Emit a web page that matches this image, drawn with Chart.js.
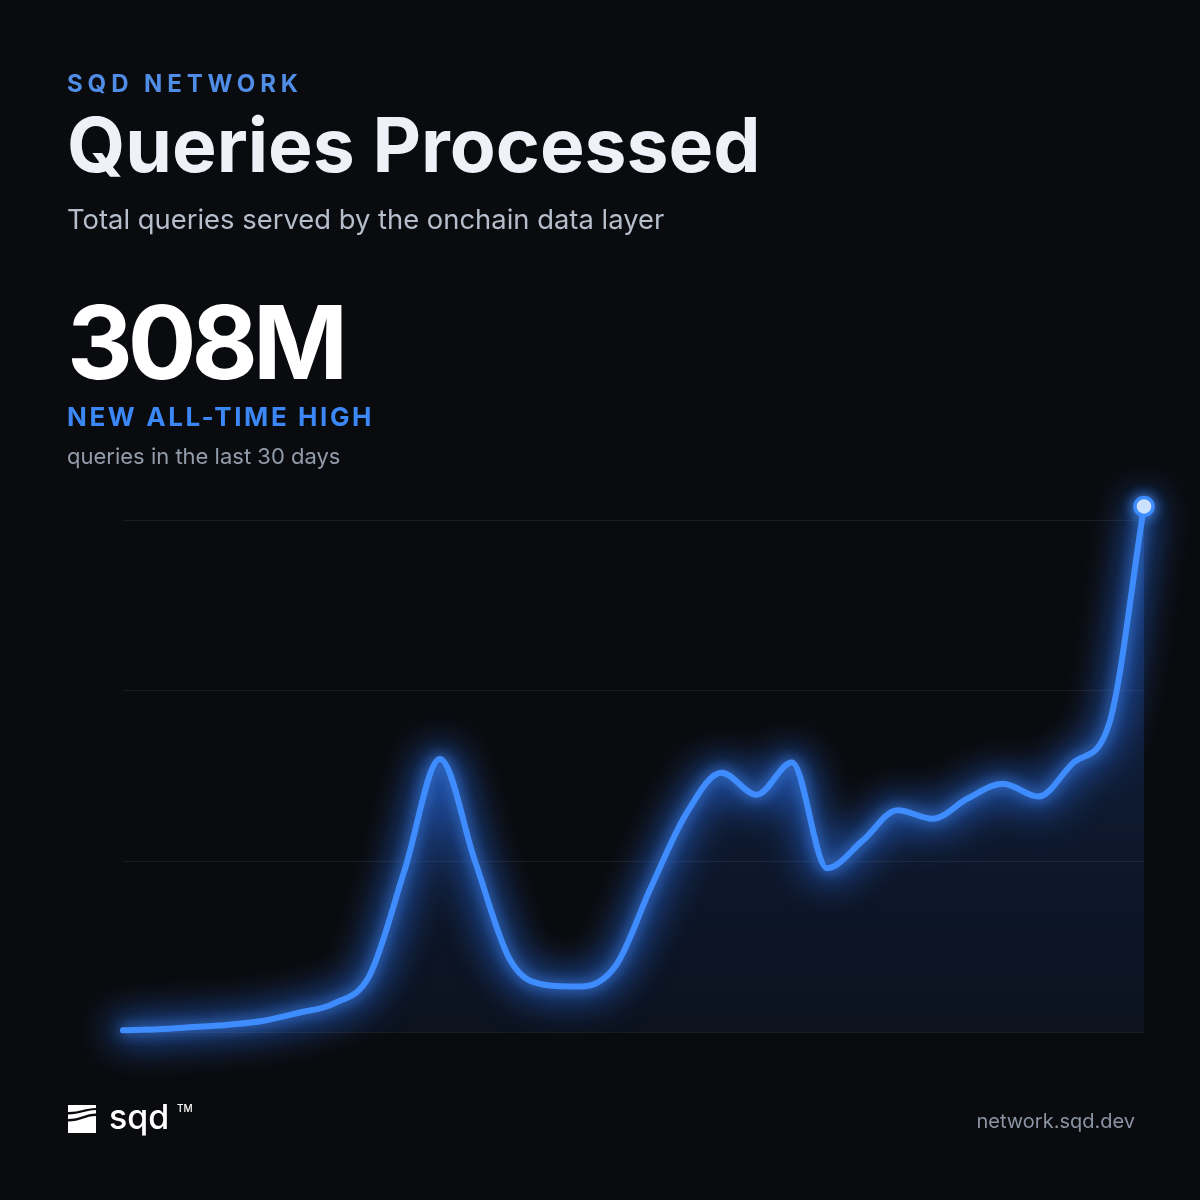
<!DOCTYPE html>
<html>
<head>
<meta charset="utf-8">
<script src="https://cdn.jsdelivr.net/npm/chart.js@4.4.1/dist/chart.umd.min.js"></script>
<style>
  html, body { margin: 0; padding: 0; background: #0a0b0e; }
  body { width: 1200px; height: 1200px; position: relative; overflow: hidden; font-family: "Inter", "Noto Sans", sans-serif; }
  #chart { position: absolute; left: 0; top: 0; }
  .txt { position: absolute; left: 67px; line-height: 1; white-space: nowrap; }
  .kicker { top: 72px; font-size: 24px; font-weight: 700; letter-spacing: 4.9px; color: #4f8de6; }
  .title { top: 107px; font-size: 75px; font-weight: 700; letter-spacing: 0; color: #eef2f8; }
  .sub { top: 206px; font-size: 27.4px; font-weight: 400; color: #b6becc; }
  .big { top: 291px; font-size: 102px; font-weight: 700; letter-spacing: -5px; color: #ffffff; }
  .ath { top: 404px; font-size: 26px; font-weight: 700; letter-spacing: 2.6px; color: #3b87f5; }
  .small { top: 445px; font-size: 22px; font-weight: 400; color: #939cab; }
  .logo { position: absolute; left: 68px; top: 1105px; width: 28px; height: 28px; }
  .brand { position: absolute; left: 109px; top: 1100px; font-size: 34px; font-weight: 500; color: #ffffff; line-height: 1; }
  .tm { position: absolute; left: 177px; top: 1103px; font-size: 10px; font-weight: 500; color: #ffffff; line-height: 1; }
  .url { position: absolute; right: 65px; top: 1111px; font-size: 20px; font-weight: 400; color: #8b94a4; line-height: 1; }
</style>
</head>
<body>
<canvas id="chart" width="1200" height="1200"></canvas>

<div class="txt kicker">SQD NETWORK</div>
<div class="txt title">Queries Processed</div>
<div class="txt sub">Total queries served by the onchain data layer</div>
<div class="txt big">308M</div>
<div class="txt ath">NEW ALL-TIME HIGH</div>
<div class="txt small">queries in the last 30 days</div>

<svg class="logo" viewBox="0 0 28 28">
  <path fill="#fff" d="M0 0 H28 V3 C18 3 12 7 0 7 Z"/>
  <path fill="#fff" d="M0 9.5 C12 9.5 18 5 28 5 V8.5 C18 8.5 12 14 0 14 Z"/>
  <path fill="#fff" d="M0 16.5 C12 16.5 18 11 28 11 V28 H0 Z"/>
</svg>
<div class="brand">sqd</div>
<div class="tm">TM</div>
<div class="url">network.sqd.dev</div>

<script>
// DATA
const day_labels = [
  'D1', 'D2', 'D3', 'D4', 'D5', 'D6', 'D7', 'D8', 'D9', 'D10',
  'D11', 'D12', 'D13', 'D14', 'D15', 'D16', 'D17', 'D18', 'D19', 'D20',
  'D21', 'D22', 'D23', 'D24', 'D25', 'D26', 'D27', 'D28', 'D29', 'D30'
];
// queries, millions
const queries = [
  1, 1.6, 2.9, 4.3, 6.6, 11.3, 16.8, 33, 95, 160,
  100, 42, 27.6, 26.6, 39, 85, 128, 152, 139, 158,
  96, 112, 130, 125, 137, 145.5, 138, 158, 180, 308
];
const grid_ticks = [0, 100, 200, 300];

// GLOW - blurred wide copy of the line first, then the line with a small glow
const glowPlugin = {
  id: 'glow',
  beforeDatasetDraw: function(chart, args) {
    const ctx = chart.ctx;
    const line = args.meta.dataset;
    const opts = line.options;
    const keepWidth = opts.borderWidth;
    const keepColor = opts.borderColor;

    ctx.save();
    ctx.filter = 'blur(18px)';
    opts.borderWidth = 28;
    opts.borderColor = 'rgba(45, 120, 255, 0.6)';
    line.draw(ctx, chart.chartArea);
    opts.borderWidth = keepWidth;
    opts.borderColor = keepColor;
    ctx.restore();

    ctx.save();
    ctx.shadowColor = 'rgba(70, 145, 255, 0.95)';
    ctx.shadowBlur = 14;
  },
  afterDatasetDraw: function(chart) {
    chart.ctx.restore();
  }
};

function chartMethods() {
  const canvas = document.getElementById('chart');
  const ctx = canvas.getContext('2d');

  const fill = ctx.createLinearGradient(0, 500, 0, 1040);
  fill.addColorStop(0, 'rgba(40, 110, 240, 0.26)');
  fill.addColorStop(1, 'rgba(40, 110, 240, 0.07)');

  const last = queries.length - 1;

  const line_config = {
    type: 'line',
    data: {
      labels: day_labels,
      datasets: [{
        data: queries,
        borderColor: '#3f8cff',
        borderWidth: 6,
        borderCapStyle: 'round',
        borderJoinStyle: 'round',
        backgroundColor: fill,
        fill: 'origin',
        cubicInterpolationMode: 'monotone',
        clip: false,
        pointRadius: function(c) { return c.dataIndex === last ? 9 : 0; },
        pointBackgroundColor: '#ffffff',
        pointBorderColor: '#3f8cff',
        pointBorderWidth: 3.5,
        pointHoverRadius: 0
      }]
    },
    options: {
      responsive: false,
      animation: false,
      layout: {
        padding: { left: 123, right: 56, top: 486, bottom: 168 }
      },
      plugins: {
        legend: { display: false },
        tooltip: { enabled: false }
      },
      scales: {
        x: {
          display: false
        },
        y: {
          min: 0,
          max: 320,
          afterBuildTicks: function(scale) {
            scale.ticks = grid_ticks.map(function(v) { return { value: v }; });
          },
          ticks: { display: false },
          border: { display: false },
          grid: {
            color: 'rgba(255, 255, 255, 0.07)',
            lineWidth: 1,
            drawTicks: false
          }
        }
      }
    },
    plugins: [glowPlugin]
  };
  new Chart(ctx, line_config);
}

chartMethods();
</script>
</body>
</html>
